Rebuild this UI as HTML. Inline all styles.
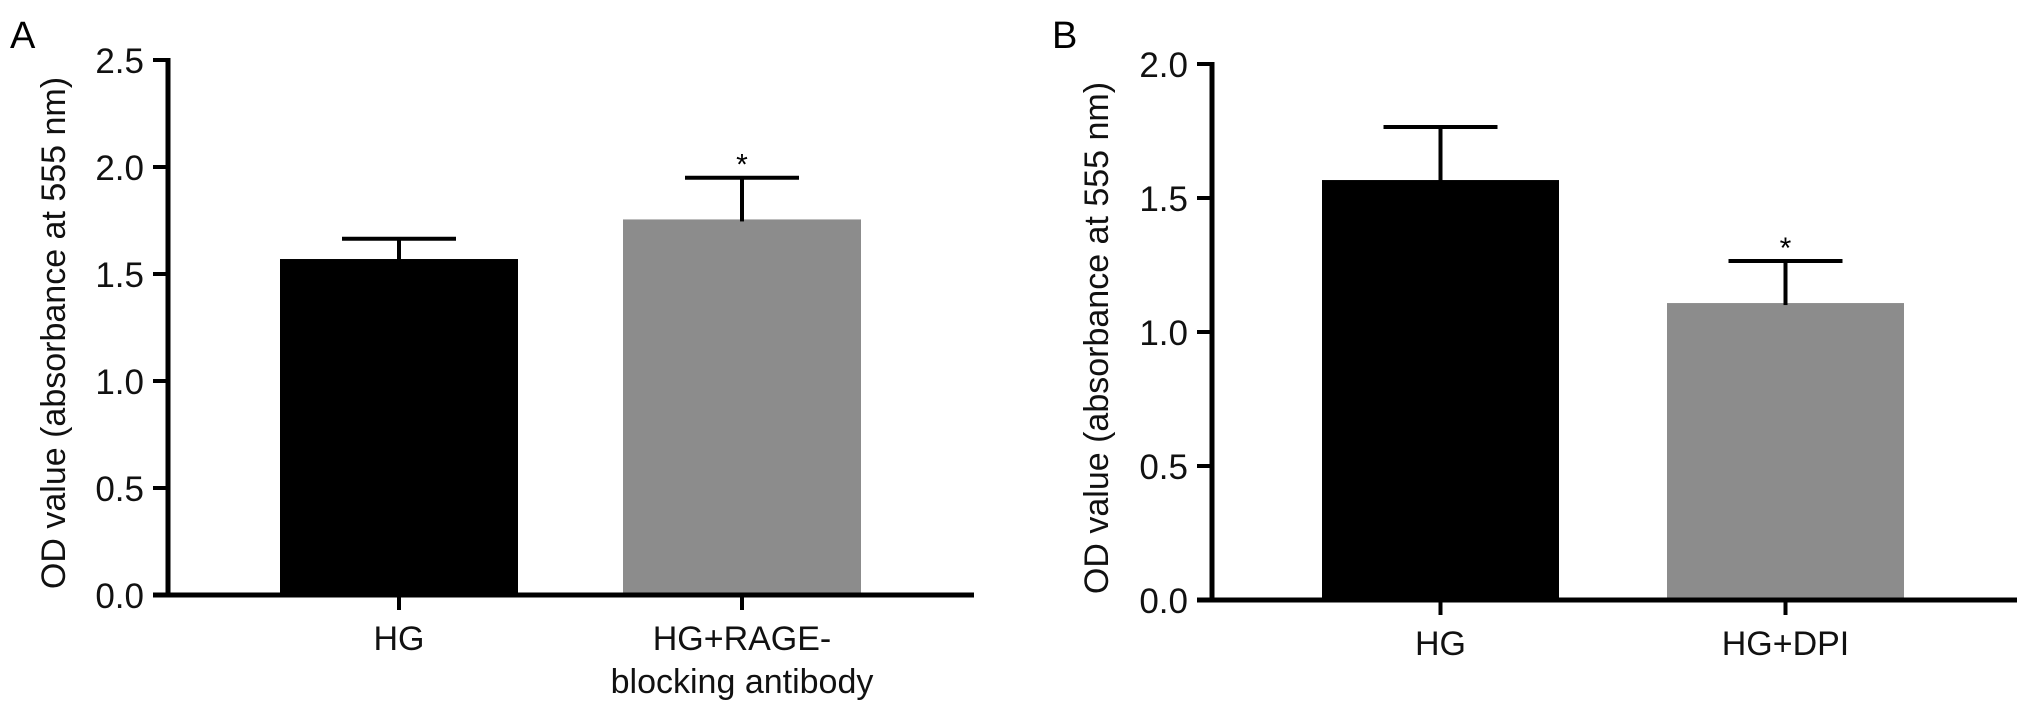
<!DOCTYPE html>
<html><head><meta charset="utf-8"><style>
html,body{margin:0;padding:0;background:#fff;}
svg{display:block;font-family:"Liberation Sans",Arial,sans-serif;}
</style></head><body>
<svg id="chart" width="2031" height="716" viewBox="0 0 2031 716">
<text x="10" y="48" font-size="38">A</text>
<text x="1052" y="48" font-size="38">B</text>
<g id="pa"></g>
<g id="pb"></g>
</svg>
<script>
const aCategories = [["HG"], ["HG+RAGE-", "blocking antibody"]];
const aValues = [1.57, 1.755];
const aErrors = [0.095, 0.195];
const aTicks = ["0.0", "0.5", "1.0", "1.5", "2.0", "2.5"];
const bCategories = [["HG"], ["HG+DPI"]];
const bValues = [1.567, 1.108];
const bErrors = [0.198, 0.157];
const bTicks = ["0.0", "0.5", "1.0", "1.5", "2.0"];
const sigA = [false, true];
const sigB = [false, true];

const NS = "http://www.w3.org/2000/svg";
function mk(p, tag, attrs){const e=document.createElementNS(NS,tag);for(const k in attrs)e.setAttribute(k,attrs[k]);p.appendChild(e);return e;}

function draw(g, cfg, cats, vals, errs, ticks, sig, prefix){
  const ymax = parseFloat(ticks[ticks.length-1]);
  const y = v => cfg.y0 - v/ymax*(cfg.y0-cfg.yTop);
  const colors = ["#000", "#8c8c8c"];
  vals.forEach((v,i)=>{
    const x0 = cfg.barX[i], w = cfg.barW, cx = x0 + w/2;
    const r = mk(g,"rect",{x:x0,y:y(v),width:w,height:cfg.y0-y(v),fill:colors[i]});
    
    
    const top = y(v+errs[i]);
    const e1 = mk(g,"line",{x1:cx,x2:cx,y1:y(v)+2,y2:top,stroke:"#000","stroke-width":4});
    
    
    const e2 = mk(g,"line",{x1:cx-cfg.cap,x2:cx+cfg.cap,y1:top,y2:top,stroke:"#000","stroke-width":4});
    
    
    if(sig[i]){
      const s = mk(g,"text",{x:cx,y:top-3,"font-size":30,"text-anchor":"middle"});
      s.textContent="*";
      
      
    }
    const xt = mk(g,"line",{x1:cx,x2:cx,y1:cfg.y0,y2:cfg.y0+15,stroke:"#000","stroke-width":4});
    
    
    cats[i].forEach((ln,j)=>{
      const t = mk(g,"text",{x:cx,y:cfg.y0+55+j*43,"font-size":34,"text-anchor":"middle",fill:"#111"});
      t.textContent = ln;
      
      
    });
  });
  const ya = mk(g,"line",{x1:cfg.ax,x2:cfg.ax,y1:cfg.yTop-2,y2:cfg.y0+2,stroke:"#000","stroke-width":5});
  
  
  const xa = mk(g,"line",{x1:cfg.ax-15,x2:cfg.axEnd,y1:cfg.y0,y2:cfg.y0,stroke:"#000","stroke-width":5});
  
  
  ticks.forEach(t=>{
    const yy = y(parseFloat(t));
    const tl = mk(g,"line",{x1:cfg.ax-15,x2:cfg.ax,y1:yy,y2:yy,stroke:"#000","stroke-width":4});
    
    
    const tx = mk(g,"text",{x:cfg.ax-24,y:yy+13,"font-size":35,"text-anchor":"end",fill:"#111"});
    tx.textContent = t;
    
    
  });
  const yt = mk(g,"text",{x:0,y:0,"font-size":34,"text-anchor":"middle",fill:"#111",transform:`translate(${cfg.titleX},${cfg.titleY}) rotate(-90)`});
  yt.textContent = "OD value (absorbance at 555 nm)";
  
  
}
draw(document.getElementById("pa"),
  {ax:168,axEnd:974,y0:595,yTop:60,barX:[280,623],barW:238,cap:57,titleX:65,titleY:333},
  aCategories,aValues,aErrors,aTicks,sigA,"a");
draw(document.getElementById("pb"),
  {ax:1212,axEnd:2017,y0:600,yTop:64,barX:[1322,1667],barW:237,cap:57,titleX:1108,titleY:338},
  bCategories,bValues,bErrors,bTicks,sigB,"b");
</script>
</body></html>
